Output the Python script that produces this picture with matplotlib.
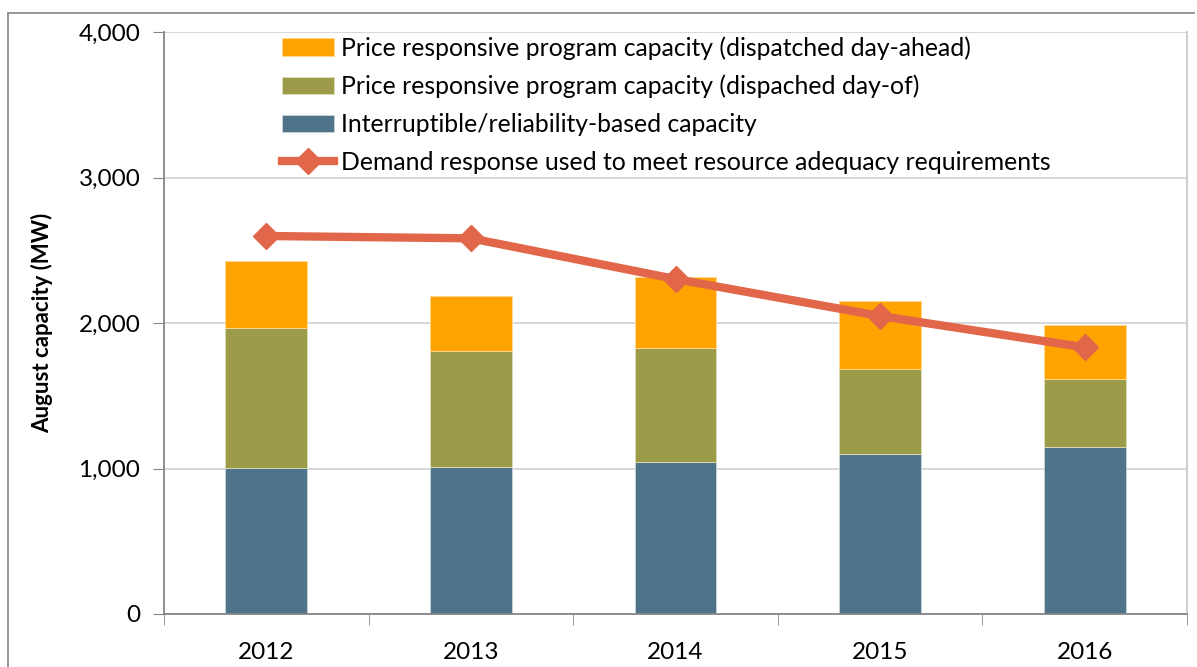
import numpy as np
import matplotlib.pyplot as plt
from matplotlib.lines import Line2D

plt.rcParams['font.family'] = ['Lato', 'DejaVu Sans']

# August capacity (MW) by year
years = ['2012', '2013', '2014', '2015', '2016']
interruptible = [1006, 1013, 1043, 1098, 1150]
day_of = [962, 797, 783, 586, 467]
day_ahead = [460, 376, 488, 467, 369]
dr_for_ra = [2598, 2582, 2302, 2048, 1833]

c_ahead = '#FFA300'
c_dayof = '#9B9B4A'
c_inter = '#4F7489'
c_line = '#E2674A'

fig = plt.figure(figsize=(11.97, 6.67), dpi=100)
ax = fig.add_axes([164 / 1197, 53 / 667, 1023 / 1197, 582 / 667])

x = np.arange(len(years))
w = 0.40
b1 = ax.bar(x, interruptible, w, color=c_inter, edgecolor='#c8d4dc', linewidth=0.6, zorder=2)
b2 = ax.bar(x, day_of, w, bottom=interruptible, color=c_dayof, edgecolor='#e0e0b8', linewidth=0.6, zorder=2)
bottom2 = np.array(interruptible) + np.array(day_of)
b3 = ax.bar(x, day_ahead, w, bottom=bottom2, color=c_ahead, edgecolor='#ffd890', linewidth=0.6, zorder=2)
ln, = ax.plot(x, dr_for_ra, color=c_line, lw=6, marker='D', ms=13, zorder=3)

ax.set_xlim(-0.5, 4.5)
ax.set_ylim(0, 4000)
ax.set_yticks([0, 1000, 2000, 3000, 4000])
ax.set_yticklabels(['0', '1,000', '2,000', '3,000', '4,000'])
ax.set_xticks(x)
ax.set_xticklabels(years)
ax.set_xticks(np.arange(-0.5, 5, 1), minor=True)
ax.tick_params(axis='x', which='major', length=0, pad=20, labelsize=17.5)
ax.tick_params(axis='x', which='minor', length=8, color='#868686', direction='out')
ax.tick_params(axis='y', length=8, color='#868686', pad=9, labelsize=17.5)
ax.yaxis.grid(True, color='#d4d4d4', lw=1.3, zorder=0)
ax.set_axisbelow(True)

for s in ['left', 'bottom']:
    ax.spines[s].set_color('#868686')
    ax.spines[s].set_linewidth(1.3)
ax.spines['right'].set_color('#cfcfcf')
ax.spines['right'].set_linewidth(1.5)
ax.spines['top'].set_visible(False)

ax.set_ylabel('August capacity (MW)', fontsize=16, fontweight='bold', labelpad=18)

handles = [b3, b2, b1, ln]
labels = ['Price responsive program capacity (dispatched day-ahead)',
          'Price responsive program capacity (dispached day-of)',
          'Interruptible/reliability-based capacity',
          'Demand response used to meet resource adequacy requirements']
ax.legend(handles, labels, loc='upper left', bbox_to_anchor=(0.115, 0.993),
          frameon=False, borderpad=0, borderaxespad=0, fontsize=17.8,
          handlelength=2.1, handleheight=0.7, handletextpad=0.3, labelspacing=0.6)

# outer chart border (top and left)
fig.add_artist(Line2D([8 / 1197, 1194 / 1197], [1 - 13 / 667, 1 - 13 / 667],
                      color='#8c8c8c', lw=1.3, transform=fig.transFigure))
fig.add_artist(Line2D([8 / 1197, 8 / 1197], [0, 1 - 13 / 667],
                      color='#8c8c8c', lw=1.3, transform=fig.transFigure))

fig.savefig('out.png', dpi=100)
